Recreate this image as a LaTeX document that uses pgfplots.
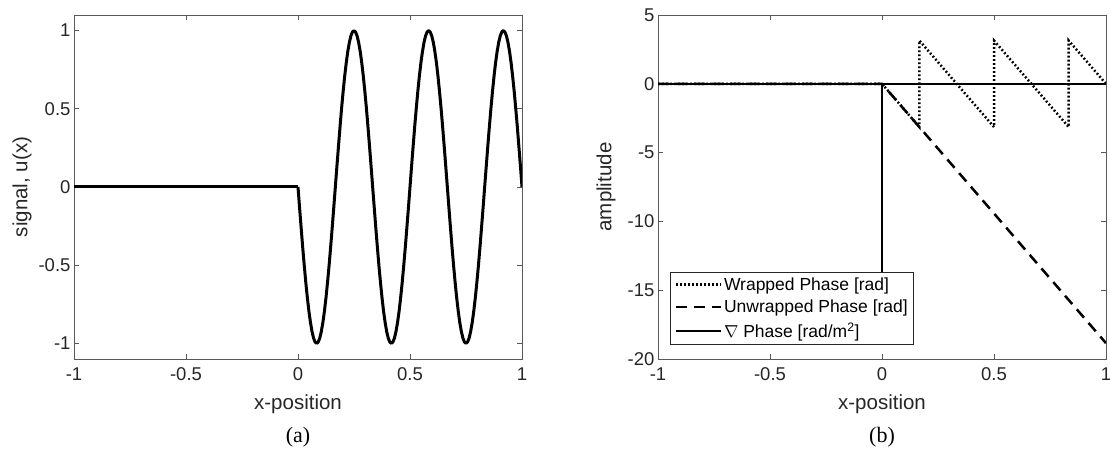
\documentclass[border=0pt]{standalone}
\usepackage{pgfplots}
\pgfplotsset{compat=1.18}
\usepackage{pgfplotstable}
\usepackage{fontspec}
\setmainfont{Liberation Sans}
\newfontfamily\capfont{Liberation Serif}

\pgfplotstableread{
x u
0 0
0.0069 -0.1305
0.0139 -0.2588
0.0208 -0.3827
0.0278 -0.5
0.0347 -0.6088
0.0417 -0.7071
0.0486 -0.7934
0.0556 -0.8660
0.0625 -0.9239
0.0694 -0.9659
0.0764 -0.9914
0.0833 -1
0.0903 -0.9914
0.0972 -0.9659
0.1042 -0.9239
0.1111 -0.8660
0.1181 -0.7934
0.125 -0.7071
0.1319 -0.6088
0.1389 -0.5
0.1458 -0.3827
0.1528 -0.2588
0.1597 -0.1305
0.1667 0
0.1736 0.1305
0.1806 0.2588
0.1875 0.3827
0.1944 0.5
0.2014 0.6088
0.2083 0.7071
0.2153 0.7934
0.2222 0.8660
0.2292 0.9239
0.2361 0.9659
0.2431 0.9914
0.25 1
0.2569 0.9914
0.2639 0.9659
0.2708 0.9239
0.2778 0.8660
0.2847 0.7934
0.2917 0.7071
0.2986 0.6088
0.3056 0.5
0.3125 0.3827
0.3194 0.2588
0.3264 0.1305
0.3333 0
0.3403 -0.1305
0.3472 -0.2588
0.3542 -0.3827
0.3611 -0.5
0.3681 -0.6088
0.375 -0.7071
0.3819 -0.7934
0.3889 -0.8660
0.3958 -0.9239
0.4028 -0.9659
0.4097 -0.9914
0.4167 -1
0.4236 -0.9914
0.4306 -0.9659
0.4375 -0.9239
0.4444 -0.8660
0.4514 -0.7934
0.4583 -0.7071
0.4653 -0.6088
0.4722 -0.5
0.4792 -0.3827
0.4861 -0.2588
0.4931 -0.1305
0.5 0
0.5069 0.1305
0.5139 0.2588
0.5208 0.3827
0.5278 0.5
0.5347 0.6088
0.5417 0.7071
0.5486 0.7934
0.5556 0.8660
0.5625 0.9239
0.5694 0.9659
0.5764 0.9914
0.5833 1
0.5903 0.9914
0.5972 0.9659
0.6042 0.9239
0.6111 0.8660
0.6181 0.7934
0.625 0.7071
0.6319 0.6088
0.6389 0.5
0.6458 0.3827
0.6528 0.2588
0.6597 0.1305
0.6667 0
0.6736 -0.1305
0.6806 -0.2588
0.6875 -0.3827
0.6944 -0.5
0.7014 -0.6088
0.7083 -0.7071
0.7153 -0.7934
0.7222 -0.8660
0.7292 -0.9239
0.7361 -0.9659
0.7431 -0.9914
0.75 -1
0.7569 -0.9914
0.7639 -0.9659
0.7708 -0.9239
0.7778 -0.8660
0.7847 -0.7934
0.7917 -0.7071
0.7986 -0.6088
0.8056 -0.5
0.8125 -0.3827
0.8194 -0.2588
0.8264 -0.1305
0.8333 0
0.8403 0.1305
0.8472 0.2588
0.8542 0.3827
0.8611 0.5
0.8681 0.6088
0.875 0.7071
0.8819 0.7934
0.8889 0.8660
0.8958 0.9239
0.9028 0.9659
0.9097 0.9914
0.9167 1
0.9236 0.9914
0.9306 0.9659
0.9375 0.9239
0.9444 0.8660
0.9514 0.7934
0.9583 0.7071
0.9653 0.6088
0.9722 0.5
0.9792 0.3827
0.9861 0.2588
0.9931 0.1305
1 0
}\signaltable

\pgfplotsset{
  mystyle/.style={
    scale only axis, width=448pt, height=344pt,
    anchor=south west,
    xmin=-1, xmax=1,
    xtick={-1,-0.5,0,0.5,1}, xticklabels={-1,-0.5,0,0.5,1},
    tick align=inside, tick pos=both,
    major tick length=5pt,
    axis line style={black!65, line width=0.9pt},
    every tick/.style={black!65, line width=0.9pt},
    ticklabel style={font=\fontsize{18.5}{22}\selectfont, text=black!85},
    xticklabel style={yshift=-5pt},
    label style={font=\fontsize{20.5}{24}\selectfont, text=black!85},
    xlabel style={at={(axis description cs:0.5,0)}, anchor=center, yshift=-45pt},
    ylabel style={at={(axis description cs:-0.116,0.5)}, anchor=center},
  }
}

\begin{document}
\begin{tikzpicture}
\useasboundingbox (0,0) rectangle (1110pt,460pt);

\begin{axis}[mystyle, at={(74pt,101pt)},
  ymin=-1.1, ymax=1.1,
  ytick={-1,-0.5,0,0.5,1}, yticklabels={-1,-0.5,0,0.5,1},
  xlabel={x-position}, ylabel={signal, u(x)}]
\addplot[black, line width=3pt, line join=round] coordinates {(-1,0) (0,0)};
\addplot[black, line width=3pt, line join=round] table[x=x,y=u] {\signaltable};
\end{axis}

\begin{axis}[mystyle, at={(658pt,101pt)},
  ymin=-20, ymax=5,
  ytick={-20,-15,-10,-5,0,5}, yticklabels={-20,-15,-10,-5,0,5},
  xlabel={x-position}, ylabel={amplitude},
  legend style={at={(0.027,0.253)}, anchor=north west, draw=black!85, line width=0.8pt,
    fill=white, font=\fontsize{17.5}{21}\selectfont, inner xsep=4pt, inner ysep=3pt,
    row sep=4.5pt},
  legend cell align=left,
  legend image code/.code={\draw[#1] (0pt,0pt) -- (45pt,0pt);}]
\addplot[black, line width=2.5pt, dash pattern=on 1.8pt off 2.2pt]
  coordinates {(-1,0) (0,0) (0.1667,-3.1416) (0.1667,3.1416) (0.5,-3.1416) (0.5,3.1416) (0.8333,-3.1416) (0.8333,3.1416) (1,0)};
\addlegendentry{Wrapped Phase [rad]}
\addplot[black, line width=2.5pt, dash pattern=on 11pt off 7pt]
  coordinates {(-1,0) (0,0) (1,-18.85)};
\addlegendentry{Unwrapped Phase [rad]}
\addplot[black, line width=2.5pt]
  coordinates {(-1,0) (0,0) (0,-18.5) (0,0) (1,0)};
\addlegendentry{$\nabla$ Phase [rad/m\textsuperscript{2}]}
\end{axis}

\node[font=\capfont\fontsize{22}{24}\selectfont] at (298pt,23pt) {(a)};
\node[font=\capfont\fontsize{22}{24}\selectfont] at (882pt,23pt) {(b)};
\end{tikzpicture}
\end{document}
